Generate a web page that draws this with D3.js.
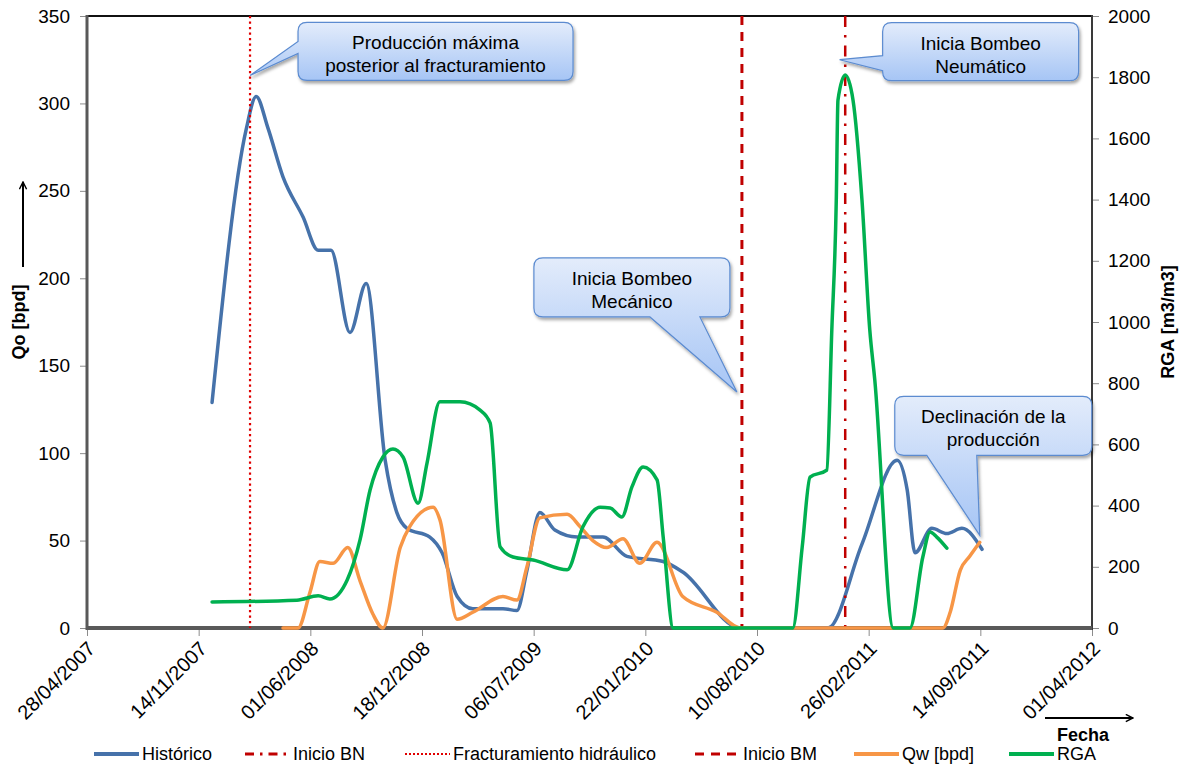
<!DOCTYPE html>
<html>
<head>
<meta charset="utf-8">
<script src="https://cdn.jsdelivr.net/npm/d3@7"></script>
<style>
  html, body { margin: 0; padding: 0; background: #fff; }
  svg { display: block; font-family: "Liberation Sans", Arial, sans-serif; }
</style>
</head>
<body>
<svg id="chart" width="1180" height="766"></svg>
<script>
// ---------------- DATA ----------------
const xTickLabels = ["28/04/2007","14/11/2007","01/06/2008","18/12/2008","06/07/2009",
                     "22/01/2010","10/08/2010","26/02/2011","14/09/2011","01/04/2012"];
const yLeftTicks = [0, 50, 100, 150, 200, 250, 300, 350];
const yRightTicks = [0, 200, 400, 600, 800, 1000, 1200, 1400, 1600, 1800, 2000];

// Histórico (Qo, bpd) - left axis
const histDates = ["2007-12-08","2008-02-07","2008-02-25","2008-03-17","2008-04-13","2008-05-19",
  "2008-06-15","2008-07-08","2008-08-11","2008-09-09","2008-10-13","2008-11-03","2008-11-21",
  "2009-01-01","2009-01-23","2009-02-19","2009-03-19","2009-05-12","2009-06-06","2009-06-24",
  "2009-07-17","2009-08-13","2009-09-22","2009-11-07","2009-12-20","2010-02-23","2010-03-30",
  "2010-07-11","2010-10-26","2010-12-15","2011-02-14","2011-04-18","2011-05-06","2011-05-20",
  "2011-06-19","2011-07-16","2011-08-12","2011-09-17"];
const histQo = [129, 285, 304, 286, 258, 235, 216, 216, 169, 197, 96, 66, 57,
  52, 43, 18, 11, 11, 10, 33, 66, 56, 52, 52, 41, 38, 32,
  0, 0, 0, 48, 96, 79, 43, 57, 54, 57, 45];

// Qw (bpd) - left axis
const qwDates = ["2008-04-13","2008-05-10","2008-05-31","2008-06-18","2008-07-12","2008-08-07",
  "2008-08-29","2008-09-21","2008-10-09","2008-11-09","2008-11-26","2009-01-07","2009-01-19",
  "2009-02-19","2009-03-19","2009-05-12","2009-06-06","2009-06-24","2009-07-17","2009-09-04",
  "2009-09-27","2009-10-20","2009-11-14","2009-12-13","2010-01-12","2010-02-12","2010-03-30",
  "2010-05-30","2010-07-11","2010-10-26","2011-02-14","2011-05-20","2011-07-09","2011-07-22",
  "2011-08-09","2011-08-26","2011-09-13"];
const qwValues = [0, 0, 20, 38, 37, 46, 27, 8, 0, 46, 58, 69, 62,
  5, 9, 18, 16, 35, 63, 65, 58, 50, 46, 51, 37, 49, 18,
  9, 0, 0, 0, 0, 0, 9, 33, 41, 49];

// RGA (m3/m3) - right axis
const rgaDates = ["2007-12-08","2008-05-08","2008-06-15","2008-07-06","2008-08-06","2008-08-29",
  "2008-09-16","2008-10-09","2008-10-27","2008-11-14","2008-12-11","2008-12-27","2009-01-19",
  "2009-02-24","2009-04-01","2009-04-19","2009-05-07","2009-05-30","2009-07-05","2009-09-04",
  "2009-10-02","2009-11-02","2009-11-20","2009-12-11","2009-12-29","2010-01-18","2010-02-12",
  "2010-02-23","2010-03-13","2010-07-11","2010-10-13","2010-10-30","2010-11-13","2010-12-13",
  "2010-12-22","2010-12-30","2011-01-02","2011-01-15","2011-01-29","2011-02-14","2011-02-28",
  "2011-03-09","2011-04-11","2011-05-11","2011-06-03","2011-06-16","2011-06-28","2011-07-16"];
const rgaValues = [85, 91, 105, 95, 157, 288, 451, 559, 585, 559, 408, 539, 739,
  739, 712, 670, 265, 232, 222, 190, 330, 395, 392, 363, 461, 526, 484,
  297, 0, 0, 0, 265, 493, 516, 974, 1399, 1725, 1807, 1725, 1399, 974,
  810, 0, 0, 232, 314, 297, 261];

// Event lines
const eventNames = ["Inicio BN", "Fracturamiento hidráulico", "Inicio BM"];
const eventDates = ["2011-01-15", "2008-02-14", "2010-07-14"];

// Callouts (anchor date / Qo value, text)
const calloutTexts = [["Producción máxima", "posterior al fracturamiento"],
                      ["Inicia Bombeo", "Mecánico"],
                      ["Inicia Bombeo", "Neumático"],
                      ["Declinación de la", "producción"]];
const calloutDates = ["2008-02-14", "2010-07-05", "2011-01-05", "2011-09-13"];
const calloutQo = [316, 135, 325, 53];

// ---------------- CHART ----------------
const svg = d3.select("#chart");
const L = 87, R = 1092, T = 16, B = 628;
const parseISO = d3.utcParse("%Y-%m-%d");
const parseTick = d3.utcParse("%d/%m/%Y");
const tickDates = xTickLabels.map(parseTick);

const x = d3.scaleUtc().domain([tickDates[0], tickDates[tickDates.length - 1]]).range([L, R]);
const yL = d3.scaleLinear().domain([0, 350]).range([B, T]);
const yR = d3.scaleLinear().domain([0, 2000]).range([B, T]);

const FONT = 19;
const FF = "Liberation Sans, Arial, sans-serif";
const colors = { hist: "#4672aa", qw: "#f79646", rga: "#00b050", bn: "#c00000", fr: "#e00000", bm: "#c00000" };

// defs
const defs = svg.append("defs");
const grad = defs.append("linearGradient").attr("id", "cgrad").attr("x1", 0).attr("y1", 0).attr("x2", 0).attr("y2", 1);
grad.append("stop").attr("offset", "0%").attr("stop-color", "#e3ecfb");
grad.append("stop").attr("offset", "100%").attr("stop-color", "#a6c5f5");
const grad2 = defs.append("linearGradient").attr("id", "cgrad2").attr("x1", 0).attr("y1", 0).attr("x2", 0).attr("y2", 1);
grad2.append("stop").attr("offset", "0%").attr("stop-color", "#e3ecfb");
grad2.append("stop").attr("offset", "62%").attr("stop-color", "#bcd3f7");
grad2.append("stop").attr("offset", "100%").attr("stop-color", "#a6c5f5");
const filt = defs.append("filter").attr("id", "shadow").attr("x", "-10%").attr("y", "-10%").attr("width", "130%").attr("height", "140%");
filt.append("feDropShadow").attr("dx", 1.5).attr("dy", 2.5).attr("stdDeviation", 1.8).attr("flood-color", "#000").attr("flood-opacity", 0.35);

// plot border: top
svg.append("line").attr("x1", L).attr("x2", R).attr("y1", T).attr("y2", T).attr("stroke", "#111").attr("stroke-width", 2);

// Left axis
const axL = svg.append("g").attr("transform", `translate(${L},0)`)
  .call(d3.axisLeft(yL).tickValues(yLeftTicks).tickFormat(d3.format("d")).tickSize(7).tickSizeOuter(0).tickPadding(10));
axL.select(".domain").remove();
axL.selectAll(".tick line").attr("stroke", "#8c8c8c");
axL.selectAll(".tick text").attr("font-size", FONT).attr("font-family", FF).attr("fill", "#000");

// Right axis
const axR = svg.append("g").attr("transform", `translate(${R},0)`)
  .call(d3.axisRight(yR).tickValues(yRightTicks).tickFormat(d3.format("d")).tickSize(7).tickSizeOuter(0).tickPadding(9));
axR.select(".domain").remove();
axR.selectAll(".tick line").attr("stroke", "#8c8c8c");
axR.selectAll(".tick text").attr("font-size", FONT).attr("font-family", FF).attr("fill", "#000");

// Bottom axis
const axB = svg.append("g").attr("transform", `translate(0,${B})`)
  .call(d3.axisBottom(x).tickValues(tickDates).tickFormat(d3.utcFormat("%d/%m/%Y")).tickSize(8).tickSizeOuter(0));
axB.select(".domain").remove();
axB.selectAll(".tick line").attr("stroke", "#8c8c8c");
axB.selectAll(".tick text")
  .attr("font-size", 20).attr("font-family", FF).attr("fill", "#000")
  .attr("text-anchor", "end").attr("y", 0).attr("dy", "0.35em")
  .attr("transform", "translate(4,17) rotate(-45)");

// axis lines
svg.append("line").attr("x1", L).attr("x2", L).attr("y1", T - 1).attr("y2", B + 2).attr("stroke", "#595959").attr("stroke-width", 3);
svg.append("line").attr("x1", R).attr("x2", R).attr("y1", T - 1).attr("y2", B + 2).attr("stroke", "#3a3a3a").attr("stroke-width", 2);

// Series
const curve = d3.curveMonotoneX;
const g = svg.append("g");
function drawSeries(dates, vals, scale, color) {
  const pts = dates.map((d, i) => [parseISO(d), vals[i]]);
  g.append("path").datum(pts)
    .attr("fill", "none").attr("stroke", color).attr("stroke-width", 3.5)
    .attr("stroke-linejoin", "round").attr("stroke-linecap", "round")
    .attr("d", d3.line().x(p => x(p[0])).y(p => scale(p[1])).curve(curve));
}
const eventStyles = [
  { color: colors.bn, dash: "11,8,2.5,8", width: 2.5 },
  { color: colors.fr, dash: "2.2,3.3", width: 2.2 },
  { color: colors.bm, dash: "9,7", width: 3 }
];
function drawEvent(i) {
  const xp = x(parseISO(eventDates[i]));
  g.append("line").attr("x1", xp).attr("x2", xp).attr("y1", yL(350)).attr("y2", yL(0))
    .attr("stroke", eventStyles[i].color).attr("stroke-width", eventStyles[i].width)
    .attr("stroke-dasharray", eventStyles[i].dash);
}

// bottom axis thick line (drawn before series)
g.append("line").attr("x1", L - 1).attr("x2", R).attr("y1", B).attr("y2", B).attr("stroke", "#595959").attr("stroke-width", 4);

drawSeries(histDates, histQo, yL, colors.hist);
drawEvent(0);
drawEvent(1);
drawEvent(2);
drawSeries(qwDates, qwValues, yL, colors.qw);
drawSeries(rgaDates, rgaValues, yR, colors.rga);

// Callouts
const calloutLayout = [
  { bx0: 48, by0: -53, bw: 275, bh: 58, side: "left", a: 19, b: 31 },
  { bx0: -203, by0: -134, bw: 196, bh: 59, side: "bottom", a: 116, b: 166 },
  { bx0: 43, by0: -37, bw: 196, bh: 58, side: "left", a: 33, b: 48 },
  { bx0: -85, by0: -139, bw: 197, bh: 59, side: "bottom", a: 32, b: 82 }
];
function calloutPath(tx, ty, lay) {
  const x0 = tx + lay.bx0, y0 = ty + lay.by0, x1 = x0 + lay.bw, y1 = y0 + lay.bh, r = 9;
  let p = `M${x0 + r},${y0} H${x1 - r} Q${x1},${y0} ${x1},${y0 + r} V${y1 - r} Q${x1},${y1} ${x1 - r},${y1}`;
  if (lay.side === "bottom") {
    p += ` H${x0 + lay.b} L${tx},${ty} L${x0 + lay.a},${y1}`;
  }
  p += ` H${x0 + r} Q${x0},${y1} ${x0},${y1 - r}`;
  if (lay.side === "left") {
    p += ` V${y0 + lay.b} L${tx},${ty} L${x0},${y0 + lay.a}`;
  }
  p += ` V${y0 + r} Q${x0},${y0} ${x0 + r},${y0} Z`;
  return { d: p, cx: (x0 + x1) / 2, y0: y0, y1: y1 };
}
const cg = svg.append("g");
calloutTexts.forEach((lines, i) => {
  const tx = x(parseISO(calloutDates[i])), ty = yL(calloutQo[i]);
  const lay = calloutLayout[i];
  const cp = calloutPath(tx, ty, lay);
  cg.append("path").attr("d", cp.d)
    .attr("fill", lay.side === "bottom" ? "url(#cgrad2)" : "url(#cgrad)")
    .attr("stroke", "#5b8bd0").attr("stroke-width", 1.2)
    .attr("filter", "url(#shadow)");
  lines.forEach((t, k) => {
    cg.append("text").attr("x", cp.cx).attr("y", cp.y0 + 27 + k * 23)
      .attr("text-anchor", "middle").attr("font-size", FONT).attr("fill", "#000").text(t);
  });
});

// Axis titles
const arrowDef = defs.append("marker").attr("id", "arr").attr("viewBox", "0 0 10 10")
  .attr("refX", 9).attr("refY", 5).attr("markerWidth", 9).attr("markerHeight", 9)
  .attr("markerUnits", "userSpaceOnUse").attr("orient", "auto");
arrowDef.append("path").attr("d", "M1,1 L9,5 L1,9").attr("fill", "none").attr("stroke", "#000").attr("stroke-width", 1.6);

svg.append("text").attr("transform", "translate(25,322) rotate(-90)")
  .attr("text-anchor", "middle").attr("font-size", 18).attr("font-weight", "bold").text("Qo [bpd]");
svg.append("line").attr("x1", 23).attr("x2", 23).attr("y1", 267).attr("y2", 182)
  .attr("stroke", "#000").attr("stroke-width", 2).attr("marker-end", "url(#arr)");

svg.append("text").attr("transform", "translate(1174,322) rotate(-90)")
  .attr("text-anchor", "middle").attr("font-size", 18).attr("font-weight", "bold").text("RGA [m3/m3]");

svg.append("text").attr("x", 1083).attr("y", 741)
  .attr("text-anchor", "middle").attr("font-size", 18).attr("font-weight", "bold").text("Fecha");
svg.append("line").attr("x1", 1045).attr("x2", 1133).attr("y1", 718).attr("y2", 718)
  .attr("stroke", "#000").attr("stroke-width", 2).attr("marker-end", "url(#arr)");

// Legend
const legendNames = ["Histórico", "Inicio BN", "Fracturamiento hidráulico", "Inicio BM", "Qw [bpd]", "RGA"];
const legendStyles = [
  { color: colors.hist, dash: null, width: 4 },
  { color: colors.bn, dash: "9,6,2.5,6", width: 3 },
  { color: colors.fr, dash: "2,2", width: 2 },
  { color: colors.bm, dash: "9,7", width: 3 },
  { color: colors.qw, dash: null, width: 4 },
  { color: colors.rga, dash: null, width: 4 }
];
const legendX = [94, 245, 405, 695, 854, 1009];
const lg = svg.append("g");
const LY = 754;
legendNames.forEach((n, i) => {
  const st = legendStyles[i];
  lg.append("line").attr("x1", legendX[i]).attr("x2", legendX[i] + 45).attr("y1", LY).attr("y2", LY)
    .attr("stroke", st.color).attr("stroke-width", st.width)
    .attr("stroke-dasharray", st.dash);
  lg.append("text").attr("x", legendX[i] + 48).attr("y", LY).attr("dy", "0.35em")
    .attr("font-size", 18).attr("fill", "#000").text(n);
});
</script>
</body>
</html>
